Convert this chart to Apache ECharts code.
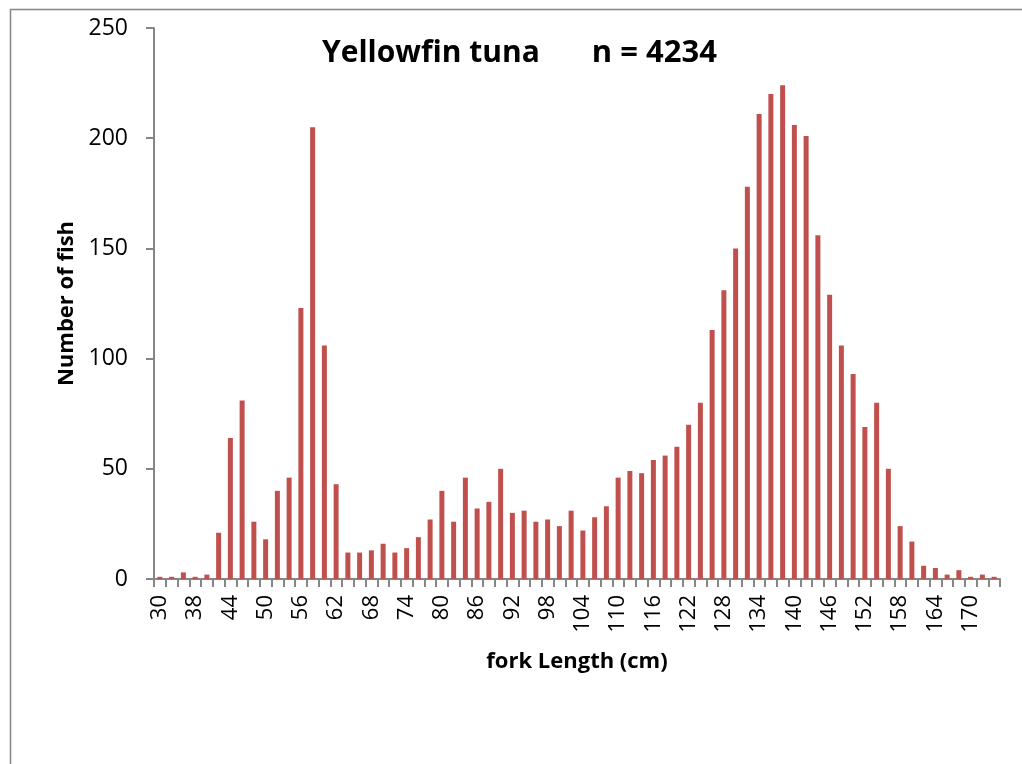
<!DOCTYPE html>
<html>
<head>
<meta charset="utf-8">
<script src="https://cdn.jsdelivr.net/npm/echarts@6/dist/echarts.min.js"></script>
<style>
html,body{margin:0;padding:0;background:#fff;}
#chart{width:1022px;height:764px;}
</style>
</head>
<body>
<div id="chart"></div>
<script>
const titleSpecies = 'Yellowfin tuna';
const titleCount = 'n = 4234';
const xAxisTitle = 'fork Length (cm)';
const yAxisTitle = 'Number of fish';
const categories = ['30','34','36','38','40','42','44','46','48','50','52','54','56','58','60','62','64','66','68','70',
  '72','74','76','78','80','82','84','86','88','90','92','94','96','98','100','102','104','106','108','110',
  '112','114','116','118','120','122','124','126','128','130','132','134','136','138','140','142','144','146','148','150',
  '152','154','156','158','160','162','164','166','168','170','172','174'];
const counts = [1,1,3,1,2,21,64,81,26,18,40,46,123,205,106,43,12,12,13,16,
  12,14,19,27,40,26,46,32,35,50,30,31,26,27,24,31,22,28,33,46,
  49,48,54,56,60,70,80,113,131,150,178,211,220,224,206,201,156,129,106,93,
  69,80,50,24,17,6,5,2,4,1,2,1];
const yTicks = [0, 50, 100, 150, 200, 250];

const FONT = '"Open Sans", "Liberation Sans", sans-serif';
const AXIS_GRAY = '#868686';

const chart = echarts.init(document.getElementById('chart'), null, {renderer: 'canvas'});
chart.setOption({
  animation: false,
  backgroundColor: '#fff',
  graphic: [{
    type: 'rect', left: 8, top: 7, silent: true,
    shape: {width: 2000, height: 2000},
    style: {fill: 'none', stroke: AXIS_GRAY, lineWidth: 1.5}
  }],
  title: {
    text: '{a|' + titleSpecies + '}{b|' + titleCount + '}', left: 317, top: 33,
    textStyle: {
      rich: {
        a: {fontFamily: FONT, fontWeight: 'bold', fontSize: 30, color: '#000'},
        b: {fontFamily: FONT, fontWeight: 'bold', fontSize: 31, color: '#000', padding: [0, 0, 0, 52]}
      }
    }
  },
  grid: {left: 154, right: 22, top: 28, bottom: 185, containLabel: false},
  xAxis: {
    type: 'category', data: categories,
    boundaryGap: true,
    name: xAxisTitle, nameLocation: 'middle', nameGap: 72,
    nameTextStyle: {fontFamily: FONT, fontWeight: 'bold', fontSize: 22, color: '#000'},
    axisLine: {lineStyle: {color: AXIS_GRAY, width: 2}},
    axisTick: {show: true, interval: 0, alignWithLabel: false, length: 8, lineStyle: {color: AXIS_GRAY, width: 2}},
    axisLabel: {interval: 2, rotate: 90, margin: 16, fontFamily: FONT, fontSize: 22, color: '#000'}
  },
  yAxis: {
    type: 'value', min: yTicks[0], max: yTicks[yTicks.length - 1], interval: yTicks[1] - yTicks[0],
    name: yAxisTitle, nameLocation: 'middle', nameGap: 75, nameRotate: 90,
    nameTextStyle: {fontFamily: FONT, fontWeight: 'bold', fontSize: 22, color: '#000'},
    axisLine: {show: true, lineStyle: {color: AXIS_GRAY, width: 2}},
    axisTick: {show: true, length: 8, lineStyle: {color: AXIS_GRAY, width: 2}},
    splitLine: {show: false},
    axisLabel: {margin: 26, fontFamily: FONT, fontSize: 23, color: '#000'}
  },
  series: [{
    type: 'bar', data: counts, barWidth: 5,
    itemStyle: {color: '#C0504D'}
  }]
});
</script>
</body>
</html>
